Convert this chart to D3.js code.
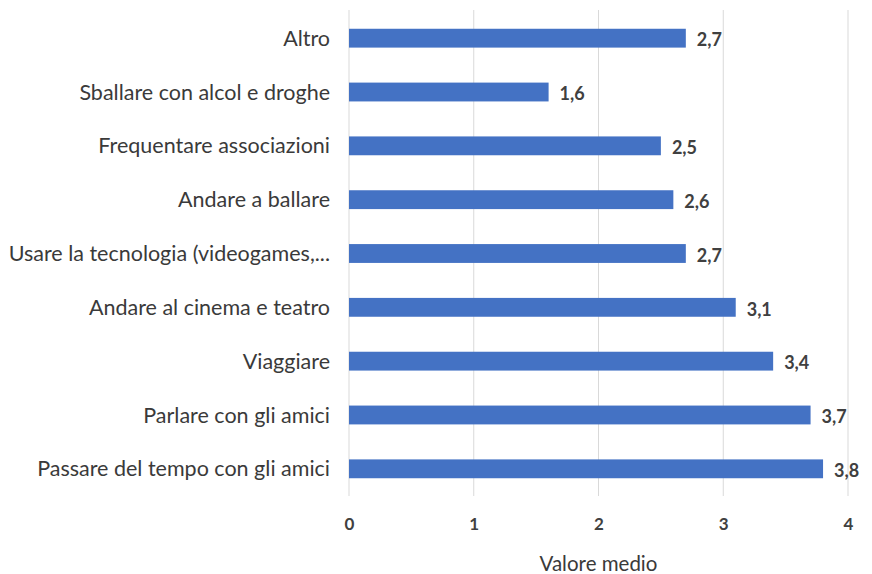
<!DOCTYPE html>
<html>
<head>
<meta charset="utf-8">
<script src="https://cdn.jsdelivr.net/npm/d3@7"></script>
<style>
  body { margin: 0; background: #fff; }
  svg text { font-family: Lato, "Open Sans", sans-serif; }
</style>
</head>
<body>
<div class="c-chart"></div>
<script>
var categories = [
    "Altro",
    "Sballare con alcol e droghe",
    "Frequentare associazioni",
    "Andare a ballare",
    "Usare la tecnologia (videogames,...",
    "Andare al cinema e teatro",
    "Viaggiare",
    "Parlare con gli amici",
    "Passare del tempo con gli amici"
];
var values = [2.7, 1.6, 2.5, 2.6, 2.7, 3.1, 3.4, 3.7, 3.8];
var xTicks = [0, 1, 2, 3, 4];
var xAxisLabel = "Valore medio";

var width = 872, height = 574;
var margin = { top: 11, right: 24, bottom: 78, left: 349 };

var svg = d3.select(".c-chart").append("svg")
    .attr("width", width)
    .attr("height", height);

var xScale = d3.scaleLinear()
    .domain([0, 4])
    .range([margin.left, margin.left + 499]);

var yScale = d3.scaleBand()
    .domain(categories)
    .range([margin.top, height - margin.bottom])
    .paddingInner(0.65)
    .paddingOuter(0.33);

// grid lines
svg.append("g")
    .selectAll("line")
    .data(xTicks)
    .enter().append("line")
    .attr("x1", function (d) { return xScale(d); })
    .attr("x2", function (d) { return xScale(d); })
    .attr("y1", margin.top - 1)
    .attr("y2", height - margin.bottom)
    .attr("stroke", "#d9d9d9")
    .attr("stroke-width", 1);

// bars
svg.append("g")
    .selectAll("rect")
    .data(values)
    .enter().append("rect")
    .attr("x", xScale(0))
    .attr("y", function (d, i) { return yScale(categories[i]); })
    .attr("width", function (d) { return xScale(d) - xScale(0); })
    .attr("height", yScale.bandwidth())
    .attr("fill", "#4472c4");

// value labels
svg.append("g")
    .selectAll("text")
    .data(values)
    .enter().append("text")
    .attr("x", function (d) { return xScale(d) + 11; })
    .attr("y", function (d, i) { return yScale(categories[i]) + yScale.bandwidth() / 2 + 2; })
    .attr("dy", "0.35em")
    .attr("font-size", 18)
    .attr("font-weight", "bold")
    .attr("fill", "#404040")
    .text(function (d) { return String(d).replace(".", ","); });

// category labels
svg.append("g")
    .selectAll("text")
    .data(categories)
    .enter().append("text")
    .attr("x", 330)
    .attr("y", function (d) { return yScale(d) + yScale.bandwidth() / 2; })
    .attr("dy", "0.35em")
    .attr("text-anchor", "end")
    .attr("font-size", 21.5)
    .attr("fill", "#3a3a3a")
    .text(function (d) { return d; });

// x axis tick labels
var xAxis = d3.axisBottom(xScale)
    .tickValues(xTicks)
    .tickSize(0)
    .tickPadding(0)
    .tickFormat(d3.format("d"));

var gx = svg.append("g")
    .attr("transform", "translate(0," + 524 + ")")
    .call(xAxis);
gx.select(".domain").remove();
gx.selectAll("text")
    .attr("dy", "0.35em")
    .attr("font-size", 17)
    .attr("font-weight", "bold")
    .attr("fill", "#404040")
    .style("font-family", "Lato, sans-serif");

svg.append("text")
    .attr("x", (xScale(0) + xScale(4)) / 2)
    .attr("y", 564)
    .attr("dy", "0.35em")
    .attr("text-anchor", "middle")
    .attr("font-size", 20.5)
    .attr("fill", "#3a3a3a")
    .text(xAxisLabel);
</script>
</body>
</html>
